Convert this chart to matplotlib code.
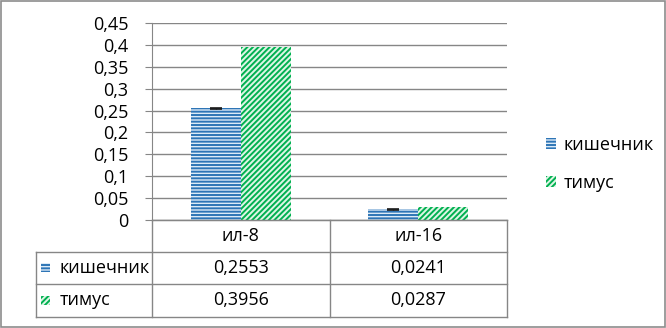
import matplotlib.pyplot as plt
from matplotlib.patches import Rectangle
from matplotlib.ticker import FuncFormatter
from matplotlib.transforms import blended_transform_factory

plt.rcParams['font.family'] = ['Open Sans', 'DejaVu Sans']
plt.rcParams['hatch.linewidth'] = 1.4

# data
categories = ["ил-8", "ил-16"]
series_names = ["кишечник", "тимус"]
gut = [0.2553, 0.0241]
thymus = [0.3956, 0.0287]
gut_err = [0.0012, 0.0010]

blue = "#2E75B6"
green = "#00B050"
grid_col = "#868686"
fs = 13

fig = plt.figure(figsize=(6.66, 3.28), dpi=100)
ax = fig.add_axes([152 / 666, 108 / 328, 355 / 666, 197 / 328])

styles = [dict(facecolor="#DDEBF7", edgecolor=blue, hatch="-----"),
          dict(facecolor="#DDF5E5", edgecolor=green, hatch="//////")]

x = range(len(categories))
w = 0.282
ax.bar([i - w / 2 for i in x], gut, w, linewidth=0, yerr=gut_err, capsize=4,
       error_kw=dict(ecolor="#1A1A1A", elinewidth=1, capthick=1.2), **styles[0])
ax.bar([i + w / 2 for i in x], thymus, w, linewidth=0, **styles[1])

ax.set_xlim(-0.5, len(categories) - 0.5)
ax.set_ylim(0, 0.45)
ax.set_yticks([i * 0.05 for i in range(10)])
ax.yaxis.set_major_formatter(FuncFormatter(lambda v, p: f"{v:g}".replace(".", ",")))
ax.tick_params(axis="y", length=5, color=grid_col, labelsize=fs, pad=12)
ax.set_xticks([])
ax.grid(axis="y", color=grid_col, linewidth=1)
ax.set_axisbelow(True)
for s in ["top", "right"]:
    ax.spines[s].set_visible(False)
ax.spines["left"].set_color(grid_col)
ax.spines["bottom"].set_color(grid_col)

# data table under the axis
row_y = [0, -0.162, -0.325, -0.492]
left = -0.327
n = len(categories)
bt = blended_transform_factory(ax.transData, ax.transAxes)
lk = dict(color=grid_col, linewidth=1, clip_on=False)
ax.plot([-0.5, n - 0.5], [row_y[0]] * 2, transform=bt, **lk)
for ry in row_y[1:]:
    ax.plot([left, 1], [ry, ry], transform=ax.transAxes, **lk)
for vx in [i - 0.5 for i in range(n + 1)]:
    ax.plot([vx, vx], [row_y[0], row_y[-1]], transform=bt, **lk)
ax.plot([left, left], [row_y[1], row_y[-1]], transform=ax.transAxes, **lk)

for i, c in enumerate(categories):
    ax.text(i, (row_y[0] + row_y[1]) / 2, c, transform=bt, ha="center", va="center", fontsize=fs)
    for r, vals in enumerate([gut, thymus]):
        ym = (row_y[r + 1] + row_y[r + 2]) / 2
        ax.text(i, ym, f"{vals[i]:.4f}".replace(".", ","), transform=bt,
                ha="center", va="center", fontsize=fs)

for r, name in enumerate(series_names):
    ym = (row_y[r + 1] + row_y[r + 2]) / 2
    yfig = ax.transAxes.transform((0, ym))[1] / fig.bbox.height
    fig.patches.append(Rectangle((41 / 666, yfig - 4.5 / 328), 9 / 666, 9 / 328,
                                 transform=fig.transFigure, linewidth=0, **styles[r]))
    ax.text(left + 24 / 355, ym, name, transform=ax.transAxes, ha="left", va="center", fontsize=fs)

# legend on the right
handles = [Rectangle((0, 0), 1, 1, linewidth=0, **s) for s in styles]
fig.legend(handles, series_names, loc="center left", bbox_to_anchor=(530 / 666, 1 - 164 / 328),
           frameon=False, fontsize=fs, handlelength=0.55, handleheight=0.55,
           handletextpad=0.4, labelspacing=1.1)

# outer border
fig.patches.append(Rectangle((0.002, 0.003), 0.996, 0.994, transform=fig.transFigure,
                             fill=False, edgecolor="#8C8C8C", linewidth=1.2))

fig.savefig("out.png", dpi=100)
